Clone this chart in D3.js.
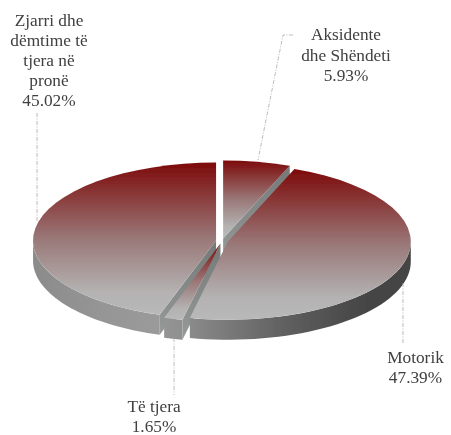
<!DOCTYPE html>
<html><head><meta charset="utf-8">
<script src="https://cdn.jsdelivr.net/npm/d3@7"></script>
<style>html,body{margin:0;padding:0;background:#fff}svg{display:block}</style>
</head><body><svg id="c" width="451" height="435"></svg>
<script>
const categories = ["Aksidente dhe Shëndeti", "Motorik", "Të tjera", "Zjarri dhe dëmtime të tjera në pronë"];
const values = [5.93, 47.39, 1.65, 45.02];
const labelLines = [["Aksidente", "dhe Shëndeti", "5.93%"], ["Motorik", "47.39%"], ["Të tjera", "1.65%"], ["Zjarri dhe", "dëmtime të", "tjera në", "pronë", "45.02%"]];

const cx = 222, cy = 241, rx = 183, ry = 78, depth = 20, explode = 0.033;
const labelAnchor = [[346, 40, 20.5], [415.5, 363, 20], [154, 412, 19.5], [49, 26, 20]];
const leaders = [[[293, 35], [283, 35], [258, 160]], [[403, 283], [403, 343]], [[174, 338], [174, 395]], [[37, 113], [37, 222]]];

const svg = d3.select("#c");
const defs = svg.append("defs");
const lin = (id, x1, y1, x2, y2, stops, user) => {
  const g = defs.append("linearGradient").attr("id", id)
    .attr("x1", x1).attr("y1", y1).attr("x2", x2).attr("y2", y2);
  if (user) g.attr("gradientUnits", "userSpaceOnUse");
  stops.forEach(s => g.append("stop").attr("offset", s[0]).attr("stop-color", s[1]));
};
lin("face", 0, 0, 0, 1, [[0, "#7d0a0a"], [0.5, "#9a7878"], [0.85, "#b4b2b2"], [1, "#b9b9b9"]]);
lin("wallR", 190, 0, 411, 0, [[0, "#8a8a8a"], [0.45, "#5e5e5e"], [0.8, "#454545"], [1, "#444444"]], true);
lin("wallL", 33, 0, 165, 0, [[0, "#8b8b8b"], [0.5, "#959595"], [1, "#9b9b9b"]], true);
lin("wallT", 165, 0, 185, 0, [[0, "#949494"], [1, "#8f8f8f"]], true);
lin("cut", 0, 0, 0, 1, [[0, "#747978"], [1, "#969a99"]]);

const soft = defs.append("filter").attr("id", "soft");
soft.append("feGaussianBlur").attr("stdDeviation", 0.45);

const pie = d3.pie().sort(null).value(d => d)(values);
const arc = d3.arc().innerRadius(0).outerRadius(rx);
const rim = (a, ox, oy, dz) => [ox + rx * Math.sin(a), oy - ry * Math.cos(a) + dz];
const lineGen = d3.line();

function wallOuter(a0, a1, ox, oy) {
  const lo = Math.max(a0, Math.PI / 2), hi = Math.min(a1, 3 * Math.PI / 2);
  if (hi <= lo) return null;
  const ts = d3.range(0, 41).map(i => lo + (hi - lo) * i / 40);
  return lineGen(ts.map(t => rim(t, ox, oy, 0)).concat(ts.slice().reverse().map(t => rim(t, ox, oy, depth)))) + "Z";
}
function wallCut(a, ox, oy) {
  const p = rim(a, ox, oy, 0);
  return lineGen([[ox, oy], p, [p[0], p[1] + depth], [ox, oy + depth]]) + "Z";
}
const offset = d => {
  const m = (d.startAngle + d.endAngle) / 2;
  return [cx + rx * explode * Math.sin(m), cy - ry * explode * Math.cos(m)];
};
const wallFill = ["wallR", "wallR", "wallT", "wallL"];
const cutAngle = [d => d.endAngle, null, d => d.startAngle, d => d.startAngle];
const pieLayer = svg.append("g").attr("filter", "url(#soft)");
[0, 3, 2, 1].forEach(i => {
  const d = pie[i], [ox, oy] = offset(d);
  const g = pieLayer.append("g");
  if (cutAngle[i]) g.append("path").attr("d", wallCut(cutAngle[i](d), ox, oy)).attr("fill", "url(#cut)");
  const w = wallOuter(d.startAngle, d.endAngle, ox, oy);
  if (w) g.append("path").attr("d", w).attr("fill", `url(#${wallFill[i]})`);
  g.append("path").attr("d", arc(d))
    .attr("transform", `translate(${ox},${oy}) scale(1,${ry / rx})`)
    .attr("fill", "url(#face)");
});

leaders.forEach(l => svg.append("path").attr("d", lineGen(l)).attr("fill", "none")
  .attr("stroke", "#ababab").attr("stroke-width", 0.8).attr("stroke-dasharray", "4 1.5 1 1.5"));

labelLines.forEach((lines, i) => {
  const [x, y, lh] = labelAnchor[i];
  const t = svg.append("text").attr("font-family", "'Liberation Serif'").attr("font-size", 17.3)
    .attr("fill", "#404040").attr("text-anchor", "middle");
  lines.forEach((s, j) => t.append("tspan").attr("x", x).attr("y", y + j * lh).text(s));
});
</script></body></html>
